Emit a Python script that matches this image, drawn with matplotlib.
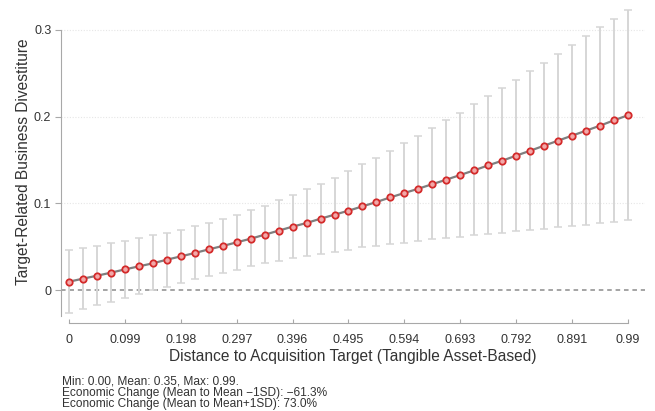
import numpy as np
import matplotlib
matplotlib.use("Agg")
import matplotlib.pyplot as plt

plt.rcParams['font.family'] = ['Liberation Sans', 'DejaVu Sans']

# Predicted values with 95% CI at 41 evenly spaced distances (0 .. 0.99)
distance = np.arange(41) * 0.02475
margin = [0.0096, 0.0131, 0.0165, 0.0200, 0.0238, 0.0273, 0.0308, 0.0350, 0.0388, 0.0427,
          0.0469, 0.0508, 0.0550, 0.0592, 0.0638, 0.0685, 0.0731, 0.0773, 0.0823, 0.0869,
          0.0915, 0.0965, 0.1015, 0.1069, 0.1119, 0.1169, 0.1221, 0.1273, 0.1327, 0.1381,
          0.1438, 0.1492, 0.1550, 0.1607, 0.1665, 0.1723, 0.1781, 0.1838, 0.1896, 0.1958,
          0.2016]
ci_low = [-0.0261, -0.0215, -0.0173, -0.0135, -0.0088, -0.0046, -0.0004, 0.0038, 0.0081, 0.0123,
          0.0162, 0.0200, 0.0236, 0.0273, 0.0308, 0.0335, 0.0365, 0.0396, 0.0419, 0.0442,
          0.0465, 0.0492, 0.0511, 0.0531, 0.0546, 0.0565, 0.0585, 0.0600, 0.0615, 0.0631,
          0.0646, 0.0662, 0.0677, 0.0692, 0.0708, 0.0723, 0.0738, 0.0754, 0.0769, 0.0788,
          0.0804]
ci_high = [0.0462, 0.0481, 0.0508, 0.0538, 0.0569, 0.0596, 0.0631, 0.0662, 0.0696, 0.0735,
           0.0777, 0.0819, 0.0869, 0.0923, 0.0973, 0.1035, 0.1096, 0.1162, 0.1227, 0.1296,
           0.1373, 0.1450, 0.1527, 0.1604, 0.1692, 0.1780, 0.1869, 0.1958, 0.2046, 0.2142,
           0.2235, 0.2327, 0.2423, 0.2523, 0.2623, 0.2727, 0.2827, 0.2931, 0.3031, 0.3131,
           0.3231]

xticks = [0, 0.099, 0.198, 0.297, 0.396, 0.495, 0.594, 0.693, 0.792, 0.891, 0.99]
xticklabels = ['0', '0.099', '0.198', '0.297', '0.396', '0.495', '0.594', '0.693', '0.792', '0.891', '0.99']
yticks = [0, 0.1, 0.2, 0.3]
yticklabels = ['0', '0.1', '0.2', '0.3']

notes = ["Min: 0.00, Mean: 0.35, Max: 0.99.",
         "Economic Change (Mean to Mean \u22121SD): \u221261.3%",
         "Economic Change (Mean to Mean+1SD): 73.0%"]

margin = np.array(margin)
yerr = [margin - np.array(ci_low), np.array(ci_high) - margin]

fig = plt.figure(figsize=(6.55, 4.11), dpi=100)
ax = fig.add_axes([61 / 655, 0.2311, (645 - 61) / 655, 0.7487])

for y in [0.1, 0.2, 0.3]:
    ax.axhline(y, color='#e6e6e6', lw=0.8, ls=(0, (1, 1.5)), zorder=0)
ax.axhline(0, color='#8c8c8c', lw=1.1, ls=(0, (3, 2.5)), zorder=1)

ax.errorbar(distance, margin, yerr=yerr, fmt='none', ecolor='#d6d6d6',
            elinewidth=1.4, capsize=2.8, capthick=1.1, zorder=2)
ax.plot(distance, margin, color='#7f7f7f', lw=1.6, zorder=3)
ax.plot(distance, margin, 'o', ms=4.6, mfc='#f2a8a8', mec='#d42a2a', mew=1.3, zorder=4)

ax.set_xlim(-0.0142, 1.0202)
ax.set_ylim(-0.03, 0.325)

for s in ['top', 'right']:
    ax.spines[s].set_visible(False)
ax.spines['left'].set_color('#a8a8a8')
ax.spines['left'].set_bounds(-0.03, 0.3)
ax.spines['bottom'].set_color('#a8a8a8')
ax.spines['bottom'].set_position(('outward', 4.8))
ax.spines['bottom'].set_bounds(0, 0.99)

ax.set_xticks(xticks)
ax.set_xticklabels(xticklabels)
ax.set_yticks(yticks)
ax.set_yticklabels(yticklabels)
ax.tick_params(axis='x', direction='in', length=3, color='#a8a8a8', labelsize=9,
               labelcolor='#333333', pad=8)
ax.tick_params(axis='y', direction='out', length=4, color='#a8a8a8', labelsize=9,
               labelcolor='#333333', pad=3)

ax.set_xlabel('Distance to Acquisition Target (Tangible Asset-Based)', fontsize=11.2,
              color='#333333', labelpad=2)
ax.set_ylabel('Target-Related Business Divestiture', fontsize=11.2, color='#333333', labelpad=2)

for i, line in enumerate(notes):
    fig.text(62 / 655, 1 - (381.5 + i * 11.3) / 411, line, fontsize=8.6, color='#333333',
             va='center', ha='left', linespacing=1.0)

fig.savefig('out.png', dpi=100)
